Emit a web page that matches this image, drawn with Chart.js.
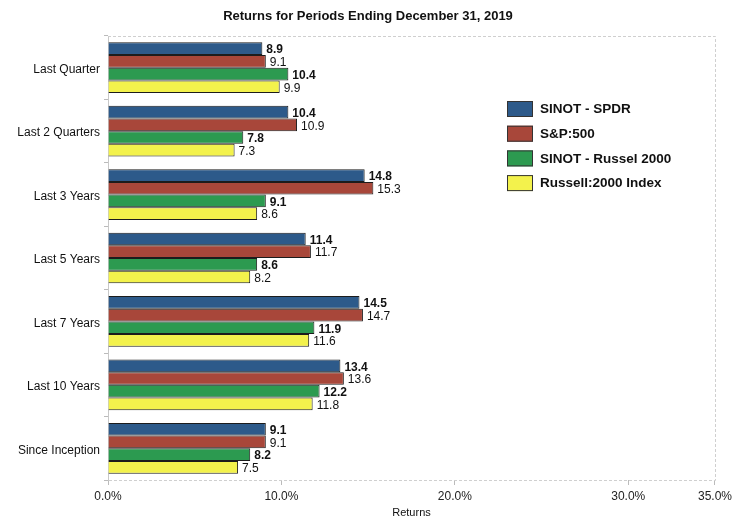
<!DOCTYPE html>
<html>
<head>
<meta charset="utf-8">
<script src="https://cdn.jsdelivr.net/npm/chart.js@4"></script>
<style>
  html, body { margin: 0; padding: 0; background: #fff; }
  #wrap { width: 736px; height: 522px; }
</style>
</head>
<body>
<div id="wrap"><canvas id="returnsChart" width="736" height="522"></canvas></div>
<script>
// Chart data
const chartTitle = 'Returns for Periods Ending December 31, 2019';
const periods = ['Last Quarter', 'Last 2 Quarters', 'Last 3 Years', 'Last 5 Years', 'Last 7 Years', 'Last 10 Years', 'Since Inception'];
const sinotSpdr = [8.9, 10.4, 14.8, 11.4, 14.5, 13.4, 9.1];
const sp500 = [9.1, 10.9, 15.3, 11.7, 14.7, 13.6, 9.1];
const sinotRussel = [10.4, 7.8, 9.1, 8.6, 11.9, 12.2, 8.2];
const russellIndex = [9.9, 7.3, 8.6, 8.2, 11.6, 11.8, 7.5];
const xTickValues = [0, 10, 20, 30, 35];

const FONT = '"Liberation Sans Narrow", "Arial Narrow", "Liberation Sans", Arial, sans-serif';

// Value labels at the end of each bar
const valueLabels = {
    id: 'valueLabels',
    afterDatasetsDraw(chart) {
        const ctx = chart.ctx;
        ctx.save();
        ctx.textBaseline = 'middle';
        ctx.textAlign = 'left';
        ctx.fillStyle = '#111';
        chart.data.datasets.forEach((ds, i) => {
            const meta = chart.getDatasetMeta(i);
            ctx.font = (ds.boldLabels ? 'bold ' : '') + '12px ' + FONT;
            meta.data.forEach((bar, j) => {
                ctx.fillText(ds.data[j].toFixed(1), bar.x + 4, bar.y + 1.5);
            });
        });
        ctx.restore();
    }
};

// Title, dashed plot frame and boxed legend on the right
const frameAndLegend = {
    id: 'frameAndLegend',
    beforeDatasetsDraw(chart) {
        const { ctx, chartArea: a } = chart;
        ctx.save();
        ctx.strokeStyle = '#cfcfcf';
        ctx.lineWidth = 1;
        ctx.setLineDash([3, 2]);
        ctx.beginPath();
        ctx.moveTo(a.left, a.top + 0.5);
        ctx.lineTo(a.right + 0.5, a.top + 0.5);
        ctx.lineTo(a.right + 0.5, a.bottom + 0.5);
        ctx.lineTo(a.left, a.bottom + 0.5);
        ctx.stroke();
        ctx.restore();
    },
    afterDraw(chart) {
        const ctx = chart.ctx;
        ctx.save();
        ctx.textBaseline = 'middle';
        ctx.textAlign = 'center';
        ctx.fillStyle = '#111';
        ctx.font = 'bold 13px ' + FONT;
        ctx.fillText(chartTitle, 368, 16);

        ctx.textAlign = 'left';
        ctx.font = 'bold 13.5px ' + FONT;
        chart.data.datasets.forEach((ds, i) => {
            const y = 101 + i * 24.7;
            ctx.fillStyle = ds.backgroundColor;
            ctx.fillRect(507, y, 26, 16);
            ctx.strokeStyle = '#333';
            ctx.lineWidth = 1;
            ctx.strokeRect(507.5, y + 0.5, 25, 15);
            ctx.fillStyle = '#111';
            ctx.fillText(ds.label, 540, y + 8.5);
        });
        ctx.restore();
    }
};

function makeDataset(label, data, color, bold) {
    return {
        label: label,
        data: data,
        backgroundColor: color,
        borderColor: '#1c1c1c',
        borderWidth: 1,
        borderSkipped: 'left',
        barPercentage: 1.0,
        categoryPercentage: 0.8,
        boldLabels: bold
    };
}

new Chart(document.getElementById('returnsChart'), {
    type: 'bar',
    data: {
        labels: periods,
        datasets: [
            makeDataset('SINOT - SPDR', sinotSpdr, '#2d5a8a', true),
            makeDataset('S&P:500', sp500, '#a8473a', false),
            makeDataset('SINOT - Russel 2000', sinotRussel, '#2c9a50', true),
            makeDataset('Russell:2000 Index', russellIndex, '#f3f24c', false)
        ]
    },
    options: {
        indexAxis: 'y',
        responsive: false,
        animation: false,
        layout: { padding: { left: 0, right: 19, top: 36, bottom: 0 } },
        plugins: {
            legend: { display: false },
            tooltip: { enabled: false },
            title: { display: false }
        },
        scales: {
            x: {
                min: 0,
                max: 35,
                afterBuildTicks(scale) {
                    scale.ticks = xTickValues.map(v => ({ value: v }));
                },
                afterFit(scale) { scale.height = 42; },
                ticks: {
                    color: '#222',
                    padding: 4,
                    maxRotation: 0,
                    font: { family: FONT, size: 12 },
                    callback: v => v.toFixed(1) + '%'
                },
                grid: { drawOnChartArea: false, tickLength: 5, color: '#bbb' },
                border: { display: false },
                title: {
                    display: true,
                    text: 'Returns',
                    color: '#111',
                    font: { family: FONT, size: 11 },
                    padding: { top: 2, bottom: 2 }
                }
            },
            y: {
                afterFit(scale) { scale.width = 108; },
                ticks: {
                    color: '#111',
                    padding: 4,
                    labelOffset: 2,
                    font: { family: FONT, size: 12 }
                },
                grid: { offset: true, drawOnChartArea: false, tickLength: 4, color: '#bbb' },
                border: { display: true, color: '#c8c8c8' }
            }
        }
    },
    plugins: [frameAndLegend, valueLabels]
});
</script>
</body>
</html>
